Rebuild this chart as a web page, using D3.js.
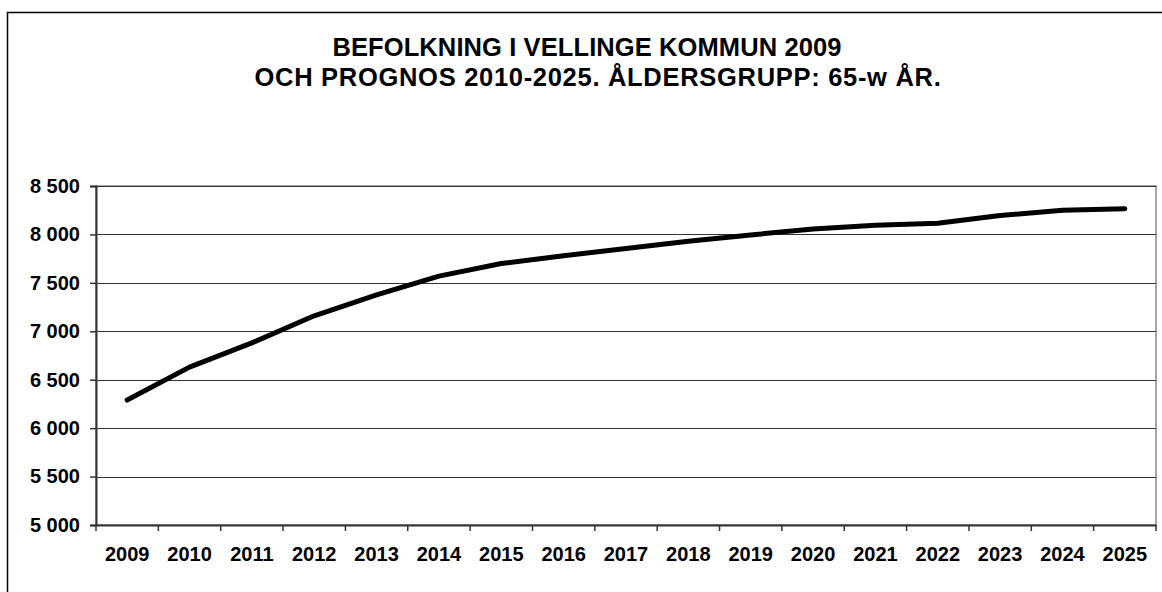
<html>
<head>
<meta charset="utf-8">
<script src="https://d3js.org/d3.v7.min.js"></script>
<style>
body {margin:0; background:white;}
text {font-family: "Liberation Sans", Arial, sans-serif; font-weight: bold; fill: black;}
</style>
</head>
<body>
<svg width="1162" height="592"></svg>
<script>
var years = ["2009","2010","2011","2012","2013","2014","2015","2016","2017","2018","2019","2020","2021","2022","2023","2024","2025"];
var population = [6290, 6630, 6880, 7160, 7375, 7570, 7700, 7780, 7855, 7930, 7995, 8055, 8095, 8115, 8195, 8250, 8265];
var yTicks = [5000, 5500, 6000, 6500, 7000, 7500, 8000, 8500];
var titleLines = ["BEFOLKNING I VELLINGE KOMMUN 2009", "OCH PROGNOS 2010-2025. ÅLDERSGRUPP: 65-w ÅR."];

var plotLeft = 96, plotRight = 1156, plotTop = 186, plotBottom = 525;
var svg = d3.select("svg");

// outer frame, runs off the right and bottom edge
svg.append("rect")
  .attr("x", 7.5).attr("y", 12.5)
  .attr("width", 1200).attr("height", 700)
  .attr("fill", "white").attr("stroke", "black").attr("stroke-width", 1.5);

svg.selectAll(".title").data(titleLines)
  .enter().append("text")
  .attr("class", "title")
  .attr("x", function(d, i) { return i == 0 ? 587 : 598; })
  .attr("y", function(d, i) { return 56 + i * 30; })
  .attr("text-anchor", "middle")
  .style("font-size", "25.5px")
  .style("letter-spacing", function(d, i) { return i == 0 ? "0.1px" : "0.7px"; })
  .text(function(d) { return d; });

var xScale = d3.scaleBand().domain(years).range([plotLeft, plotRight]);
var yScale = d3.scaleLinear().domain([5000, 8500]).range([plotBottom, plotTop]);

// plot frame
svg.append("rect")
  .attr("x", plotLeft).attr("y", plotTop)
  .attr("width", plotRight - plotLeft).attr("height", plotBottom - plotTop)
  .attr("fill", "none").attr("stroke", "#888").attr("stroke-width", 1.5);

// grid lines
svg.append("g").selectAll("line").data(yTicks.slice(1))
  .enter().append("line")
  .attr("x1", plotLeft).attr("x2", plotRight)
  .attr("y1", function(d) { return Math.round(yScale(d)) + 0.5; })
  .attr("y2", function(d) { return Math.round(yScale(d)) + 0.5; })
  .attr("stroke", "#333").attr("stroke-width", 1);

var yAxis = d3.axisLeft(yScale)
  .tickValues(yTicks)
  .tickSize(6)
  .tickPadding(10)
  .tickFormat(function(d) { return d3.format(",")(d).replace(",", " "); });

var gy = svg.append("g")
  .attr("transform", "translate(" + plotLeft + ",0)")
  .call(yAxis);
gy.select(".domain").attr("stroke", "#333").attr("stroke-width", 2);
gy.selectAll(".tick line").attr("stroke", "#333").attr("stroke-width", 1.5);
gy.selectAll("text").style("font-size", "20px").attr("fill", "black");

var xAxis = d3.axisBottom(xScale).tickSize(0).tickPadding(0);
var gx = svg.append("g")
  .attr("transform", "translate(0," + plotBottom + ")")
  .call(xAxis);
gx.select(".domain").attr("stroke", "#333").attr("stroke-width", 2);
gx.selectAll("text").style("font-size", "20px").attr("fill", "black")
  .attr("dy", null).attr("y", 36);

// tick marks between categories
svg.append("g").selectAll("line").data(years.concat(["end"]))
  .enter().append("line")
  .attr("x1", function(d, i) { return plotLeft + i * xScale.bandwidth(); })
  .attr("x2", function(d, i) { return plotLeft + i * xScale.bandwidth(); })
  .attr("y1", plotBottom).attr("y2", plotBottom + 6)
  .attr("stroke", "#333").attr("stroke-width", 1.5);

var line = d3.line()
  .x(function(d, i) { return xScale(years[i]) + xScale.bandwidth() / 2; })
  .y(function(d) { return yScale(d); });

svg.append("path")
  .datum(population)
  .attr("d", line)
  .attr("fill", "none")
  .attr("stroke", "black")
  .attr("stroke-width", 5)
  .attr("stroke-linecap", "round")
  .attr("stroke-linejoin", "round");
</script>
</body>
</html>
